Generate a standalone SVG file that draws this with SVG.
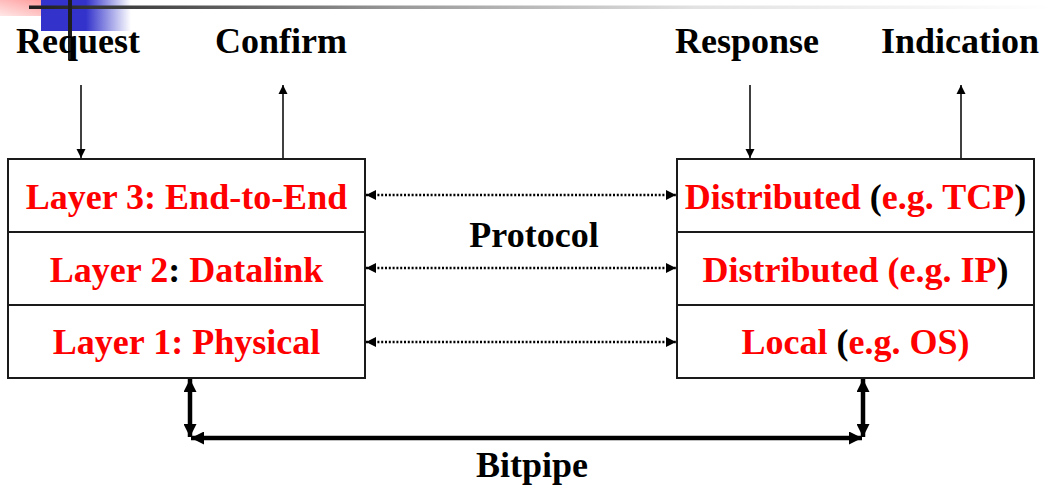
<svg xmlns="http://www.w3.org/2000/svg" width="1055" height="498" viewBox="0 0 1055 498">
<defs>
<style>
.t{font-family:"Liberation Serif","Times New Roman",serif;font-weight:bold;font-size:36px;text-anchor:middle}
.r{fill:#ff0000}
.k{fill:#000}
.box{fill:#fff;stroke:#1a1a1a;stroke-width:2}
.thin{stroke:#000;stroke-width:1.5;fill:none}
.dot{stroke:#000;stroke-width:2.5;stroke-dasharray:2 1.8;fill:none}
.thick{stroke:#000;stroke-width:4.5;fill:none}
</style>
<marker id="ah" markerUnits="userSpaceOnUse" viewBox="0 0 10 10" refX="10" refY="5" markerWidth="9" markerHeight="10" orient="auto-start-reverse"><path d="M0,0 L10,5 L0,10 Z" fill="#000"/></marker>
<marker id="ahd" markerUnits="userSpaceOnUse" viewBox="0 0 10 10" refX="10" refY="5" markerWidth="10" markerHeight="10" orient="auto-start-reverse"><path d="M0,0 L10,5 L0,10 Z" fill="#000"/></marker>
<marker id="ahb" markerUnits="userSpaceOnUse" viewBox="0 0 10 10" refX="10" refY="5" markerWidth="15" markerHeight="13" orient="auto-start-reverse"><path d="M0,0 L10,5 L0,10 Z" fill="#000"/></marker>
<linearGradient id="pink2" x1="1" y1="0" x2="0" y2="1"><stop offset="0" stop-color="#ff8f8f"/><stop offset="1" stop-color="#ffe8e8"/></linearGradient>
<linearGradient id="blue" x1="0" y1="0" x2="1" y2="0"><stop offset="0" stop-color="#3333cc"/><stop offset="0.5" stop-color="#3333cc"/><stop offset="1" stop-color="#ffffff"/></linearGradient>
<linearGradient id="line" gradientUnits="userSpaceOnUse" x1="29" y1="0" x2="1055" y2="0"><stop offset="0" stop-color="#1e1e1e"/><stop offset="0.36" stop-color="#999"/><stop offset="0.65" stop-color="#e2e2e2"/><stop offset="1" stop-color="#ffffff"/></linearGradient>
</defs>
<rect width="1055" height="498" fill="#fff"/>
<g id="decoration">
<rect x="0" y="0" width="58" height="16" fill="url(#pink2)"/>
<rect x="41" y="0" width="90" height="31" fill="url(#blue)"/>
<rect x="29" y="5.5" width="1026" height="3.5" fill="url(#line)"/>
<rect x="68" y="0" width="4" height="60" fill="#1e1e1e"/>
</g>
<g id="connectors">
<line class="thin" x1="81" y1="85" x2="81" y2="158" marker-end="url(#ah)"/>
<line class="thin" x1="283" y1="158" x2="283" y2="85" marker-end="url(#ah)"/>
<line class="thin" x1="750" y1="85" x2="750" y2="158" marker-end="url(#ah)"/>
<line class="thin" x1="961" y1="158" x2="961" y2="85" marker-end="url(#ah)"/>
<line class="dot" x1="366" y1="195" x2="676" y2="195" marker-start="url(#ahd)" marker-end="url(#ahd)"/>
<line class="dot" x1="366" y1="268" x2="676" y2="268" marker-start="url(#ahd)" marker-end="url(#ahd)"/>
<line class="dot" x1="366" y1="342" x2="676" y2="342" marker-start="url(#ahd)" marker-end="url(#ahd)"/>
<line class="thick" x1="190" y1="379" x2="190" y2="437" marker-start="url(#ahb)" marker-end="url(#ahb)"/>
<line class="thick" x1="863" y1="379" x2="863" y2="437" marker-start="url(#ahb)" marker-end="url(#ahb)"/>
<line class="thick" x1="191" y1="438" x2="862" y2="438" marker-start="url(#ahb)" marker-end="url(#ahb)"/>
</g>
<g id="labels">
<text class="t k" x="78" y="53">Request</text>
<text class="t k" x="281" y="53">Confirm</text>
<text class="t k" x="747" y="53">Response</text>
<text class="t k" x="960" y="53">Indication</text>
<text class="t k" x="534" y="247">Protocol</text>
<text class="t k" x="532" y="477">Bitpipe</text>
</g>
<g id="left-stack">
<rect class="box" x="8" y="159" width="357" height="219"/>
<line class="box" x1="8" y1="232" x2="365" y2="232"/>
<line class="box" x1="8" y1="305" x2="365" y2="305"/>
<text class="t r" x="186.5" y="209">Layer 3: End-to-End</text>
<text class="t r" x="186.5" y="282">Layer 2<tspan class="k">:</tspan> Datalink</text>
<text class="t r" x="186.5" y="354">Layer 1: Physical</text>
</g>
<g id="right-stack">
<rect class="box" x="677" y="159" width="357" height="219"/>
<line class="box" x1="677" y1="232" x2="1034" y2="232"/>
<line class="box" x1="677" y1="305" x2="1034" y2="305"/>
<text class="t r" x="855.5" y="209">Distributed <tspan class="k">(</tspan>e.g. TCP<tspan class="k">)</tspan></text>
<text class="t r" x="855.5" y="282">Distributed (e.g. IP<tspan class="k">)</tspan></text>
<text class="t r" x="855.5" y="354">Local <tspan class="k">(</tspan>e.g. OS)</text>
</g>
</svg>
